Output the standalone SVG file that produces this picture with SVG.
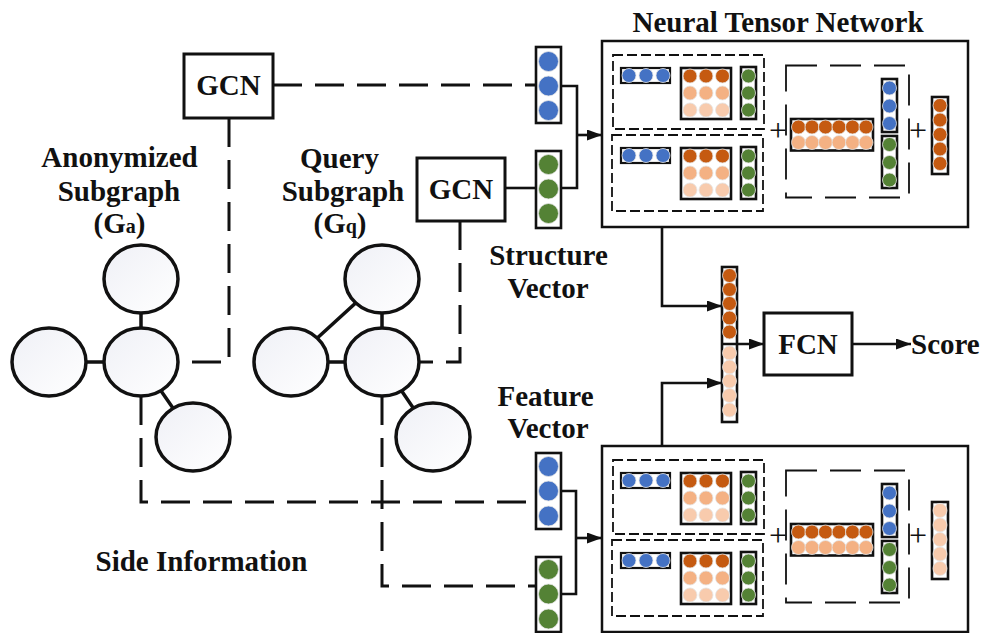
<svg xmlns="http://www.w3.org/2000/svg" xmlns:xlink="http://www.w3.org/1999/xlink" width="983" height="633" viewBox="0 0 983 633">
  <style>
    text { font-family: "Liberation Serif", "Times New Roman", serif; font-weight: bold; font-size: 29px; fill: #111; }
    .c { text-anchor: middle; }
    .plus { font-weight: normal; font-size: 32px; text-anchor: middle; }
    .box { fill: #fff; stroke: #111; stroke-width: 3; }
    .ntn { fill: #fff; stroke: #111; stroke-width: 2.5; }
    .vec { fill: #fff; stroke: #111; stroke-width: 2.6; }
    .svec { fill: #fff; stroke: #111; stroke-width: 2.2; }
    .inner { fill: none; stroke: #111; stroke-width: 1.8; stroke-dasharray: 10 4; }
    .bracket { fill: none; stroke: #111; stroke-width: 1.8; stroke-dasharray: 31 13; }
    .node { fill: url(#nodeFill); stroke: #111; stroke-width: 3.5; }
    .edge { fill: none; stroke: #111; stroke-width: 3.5; }
    .link { fill: none; stroke: #111; stroke-width: 2.6; }
    .dash { fill: none; stroke: #111; stroke-width: 3; stroke-dasharray: 29 13; }
    .b { fill: #4472C4; }
    .g { fill: #548235; }
    .o1 { fill: #C55A11; }
    .o2 { fill: #F4B183; }
    .o3 { fill: #F8CBAD; }
    .dot { stroke: #e4e4e4; stroke-width: 0.8; }
  </style>
  <defs>
    <linearGradient id="nodeFill" x1="0" y1="0" x2="1" y2="1">
      <stop offset="0" stop-color="#EFF0F6"/>
      <stop offset="1" stop-color="#FFFFFF"/>
    </linearGradient>
    <marker id="arrow" markerUnits="userSpaceOnUse" markerWidth="15" markerHeight="11" refX="15" refY="5.5" orient="auto">
      <path d="M0,0 L15,5.5 L0,11 z" fill="#111"/>
    </marker>

    <!-- bilinear block: e1 row, W slice, e2 column -->
    <g id="bilinear">
      <rect class="svec" x="19" y="27" width="49" height="15"/>
      <circle class="b dot" cx="27" cy="34.5" r="7"/>
      <circle class="b dot" cx="44" cy="34.5" r="7"/>
      <circle class="b dot" cx="61" cy="34.5" r="7"/>
      <rect class="vec" x="79" y="27" width="50" height="51" stroke-width="3"/>
      <circle class="o1 dot" cx="88" cy="35" r="7"/>
      <circle class="o1 dot" cx="104" cy="35" r="7"/>
      <circle class="o1 dot" cx="120.5" cy="35" r="7"/>
      <circle class="o2 dot" cx="88" cy="52" r="7"/>
      <circle class="o2 dot" cx="104" cy="52" r="7"/>
      <circle class="o2 dot" cx="120.5" cy="52" r="7"/>
      <circle class="o3 dot" cx="88" cy="69" r="7"/>
      <circle class="o3 dot" cx="104" cy="69" r="7"/>
      <circle class="o3 dot" cx="120.5" cy="69" r="7"/>
      <rect class="vec" x="139" y="26" width="15" height="52" stroke-width="3"/>
      <circle class="g dot" cx="146.5" cy="35" r="7"/>
      <circle class="g dot" cx="146.5" cy="52" r="7"/>
      <circle class="g dot" cx="146.5" cy="69" r="7"/>
    </g>

    <!-- shared body of a tensor network block (origin = box corner) -->
    <g id="ntnBody">
      <rect class="inner" x="11" y="14" width="151" height="74"/>
      <rect class="inner" x="10" y="94" width="151" height="76"/>
      <use xlink:href="#bilinear"/>
      <use xlink:href="#bilinear" transform="translate(0,80)"/>
      <text class="plus" x="176" y="100">+</text>
      <rect class="bracket" x="184" y="24.5" width="123" height="132"/>
      <rect class="vec" x="189" y="78" width="82" height="31.5"/>
      <circle class="o1 dot" cx="196.5" cy="86" r="7"/>
      <circle class="o1 dot" cx="210" cy="86" r="7"/>
      <circle class="o1 dot" cx="223.5" cy="86" r="7"/>
      <circle class="o1 dot" cx="237" cy="86" r="7"/>
      <circle class="o1 dot" cx="250.5" cy="86" r="7"/>
      <circle class="o1 dot" cx="264" cy="86" r="7"/>
      <circle class="o2 dot" cx="196.5" cy="101.5" r="7"/>
      <circle class="o2 dot" cx="210" cy="101.5" r="7"/>
      <circle class="o2 dot" cx="223.5" cy="101.5" r="7"/>
      <circle class="o2 dot" cx="237" cy="101.5" r="7"/>
      <circle class="o2 dot" cx="250.5" cy="101.5" r="7"/>
      <circle class="o2 dot" cx="264" cy="101.5" r="7"/>
      <rect class="vec" x="280" y="38" width="15" height="53" stroke-width="3"/>
      <circle class="b dot" cx="287.5" cy="47" r="7"/>
      <circle class="b dot" cx="287.5" cy="65" r="7"/>
      <circle class="b dot" cx="287.5" cy="82.5" r="7"/>
      <rect class="vec" x="280" y="95" width="15" height="52" stroke-width="3"/>
      <circle class="g dot" cx="287.5" cy="103.5" r="7"/>
      <circle class="g dot" cx="287.5" cy="121.5" r="7"/>
      <circle class="g dot" cx="287.5" cy="139" r="7"/>
      <text class="plus" x="316" y="100">+</text>
      <rect class="vec" x="330" y="56" width="16" height="77" stroke-width="3"/>
    </g>
  </defs>

  <rect width="983" height="633" fill="#fff"/>

  <!-- connectors -->
  <g id="connectors">
    <!-- graph edges -->
    <path class="edge" d="M141,279 V362 M49,362 H141 L193,437"/>
    <path class="edge" d="M291,362 L382,279 V362 M291,362 H382 L433,437"/>
    <!-- GCN feeds -->
    <path class="dash" d="M273,85 H536"/>
    <path class="dash" d="M229,118 V362 H178"/>
    <path class="dash" d="M460,221 V362 H419"/>
    <path class="link" d="M505,188 H536"/>
    <!-- side information feeds -->
    <path class="dash" d="M141,396 V502 H536"/>
    <path class="dash" d="M382,396 V586 H536"/>
    <!-- vector pairs into the tensor networks -->
    <path class="link" d="M561,86 H577 V188 H561"/>
    <path class="link" d="M577,135 H602" marker-end="url(#arrow)"/>
    <path class="link" d="M561,491 H576 V594 H561"/>
    <path class="link" d="M576,538 H602" marker-end="url(#arrow)"/>
    <!-- tensor outputs into the joint vector -->
    <path class="link" d="M662,227 V306 H722" marker-end="url(#arrow)"/>
    <path class="link" d="M662,446 V383 H722" marker-end="url(#arrow)"/>
    <path class="link" d="M852,344 H911" marker-end="url(#arrow)"/>
  </g>

  <!-- anonymized subgraph -->
  <g id="graph-anonymized">
    <ellipse class="node" cx="141" cy="279" rx="37" ry="34"/>
    <ellipse class="node" cx="49" cy="362" rx="37" ry="34"/>
    <ellipse class="node" cx="141" cy="362" rx="37" ry="34"/>
    <ellipse class="node" cx="193" cy="437" rx="37" ry="34"/>
    <text class="c" x="119.5" y="167">Anonymized</text>
    <text class="c" x="119" y="201">Subgraph</text>
    <text class="c" x="119.5" y="233">(G<tspan font-size="20">a</tspan>)</text>
  </g>

  <!-- query subgraph -->
  <g id="graph-query">
    <ellipse class="node" cx="382" cy="279" rx="37" ry="34"/>
    <ellipse class="node" cx="291" cy="362" rx="37" ry="34"/>
    <ellipse class="node" cx="382" cy="362" rx="37" ry="34"/>
    <ellipse class="node" cx="433" cy="437" rx="37" ry="34"/>
    <text class="c" x="339.5" y="168">Query</text>
    <text class="c" x="343" y="201">Subgraph</text>
    <text class="c" x="340" y="233">(G<tspan font-size="20">q</tspan>)</text>
  </g>

  <g id="gcn-a">
    <rect class="box" x="184" y="54" width="89" height="64"/>
    <text class="c" x="228.5" y="95">GCN</text>
  </g>

  <g id="gcn-q">
    <rect class="box" x="417" y="158" width="88" height="63"/>
    <text class="c" x="461" y="199">GCN</text>
  </g>

  <g id="structure-vectors">
    <rect class="vec" x="536" y="47" width="25" height="76"/>
    <circle class="b dot" cx="548.5" cy="61.5" r="10"/>
    <circle class="b dot" cx="548.5" cy="86" r="10"/>
    <circle class="b dot" cx="548.5" cy="110.5" r="10"/>
    <rect class="vec" x="536" y="151" width="25" height="77"/>
    <circle class="g dot" cx="548.5" cy="164.5" r="10"/>
    <circle class="g dot" cx="548.5" cy="189" r="10"/>
    <circle class="g dot" cx="548.5" cy="213.5" r="10"/>
    <text class="c" x="548.5" y="265">Structure</text>
    <text class="c" x="548" y="298">Vector</text>
  </g>

  <g id="feature-vectors">
    <rect class="vec" x="536" y="453" width="25" height="76"/>
    <circle class="b dot" cx="548.5" cy="466.5" r="10"/>
    <circle class="b dot" cx="548.5" cy="491" r="10"/>
    <circle class="b dot" cx="548.5" cy="516" r="10"/>
    <rect class="vec" x="536" y="557" width="25" height="75"/>
    <circle class="g dot" cx="548.5" cy="569.5" r="10"/>
    <circle class="g dot" cx="548.5" cy="594" r="10"/>
    <circle class="g dot" cx="548.5" cy="619" r="10"/>
    <text class="c" x="545.5" y="406">Feature</text>
    <text class="c" x="548" y="438">Vector</text>
  </g>

  <text id="side-information" class="c" x="201.5" y="571">Side Information</text>

  <!-- tensor network on structure vectors -->
  <g id="ntn-structure" transform="translate(602,41)">
    <rect class="ntn" x="0" y="0" width="366" height="186"/>
    <use xlink:href="#ntnBody"/>
    <circle class="o1 dot" cx="338" cy="64.5" r="7"/>
    <circle class="o1 dot" cx="338" cy="79" r="7"/>
    <circle class="o1 dot" cx="338" cy="93.5" r="7"/>
    <circle class="o1 dot" cx="338" cy="108" r="7"/>
    <circle class="o1 dot" cx="338" cy="122.5" r="7"/>
  </g>
  <text class="c" x="778" y="32">Neural Tensor Network</text>

  <!-- tensor network on feature vectors -->
  <g id="ntn-feature" transform="translate(602,446)">
    <rect class="ntn" x="0" y="0" width="366" height="186"/>
    <use xlink:href="#ntnBody"/>
    <circle class="o3 dot" cx="338" cy="64.5" r="7"/>
    <circle class="o3 dot" cx="338" cy="79" r="7"/>
    <circle class="o3 dot" cx="338" cy="93.5" r="7"/>
    <circle class="o3 dot" cx="338" cy="108" r="7"/>
    <circle class="o3 dot" cx="338" cy="122.5" r="7"/>
  </g>

  <!-- concatenated vector -->
  <g id="joint-vector">
    <rect class="vec" x="722" y="267" width="15" height="155"/>
    <circle class="o1 dot" cx="729.5" cy="275.5" r="7"/>
    <circle class="o1 dot" cx="729.5" cy="289.5" r="7"/>
    <circle class="o1 dot" cx="729.5" cy="303.5" r="7"/>
    <circle class="o1 dot" cx="729.5" cy="318" r="7"/>
    <circle class="o1 dot" cx="729.5" cy="332" r="7"/>
    <circle class="o3 dot" cx="729.5" cy="353" r="7"/>
    <circle class="o3 dot" cx="729.5" cy="367" r="7"/>
    <circle class="o3 dot" cx="729.5" cy="381" r="7"/>
    <circle class="o3 dot" cx="729.5" cy="395.5" r="7"/>
    <circle class="o3 dot" cx="729.5" cy="410" r="7"/>
    <path class="link" d="M722,344 H764" marker-end="url(#arrow)"/>
  </g>

  <g id="fcn">
    <rect class="box" x="764" y="313" width="88" height="62"/>
    <text class="c" x="808" y="354">FCN</text>
  </g>

  <text id="score" x="911" y="354">Score</text>
</svg>
